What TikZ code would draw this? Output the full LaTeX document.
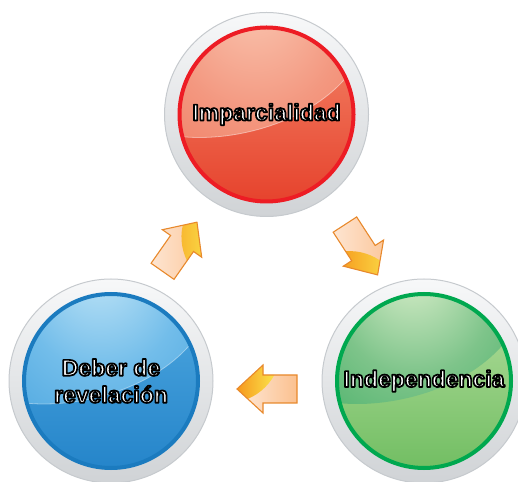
\documentclass[tikz,border=0pt]{standalone}
\usepackage{fontspec}
\setmainfont{Liberation Sans}
\usetikzlibrary{calc}

\definecolor{ringline}{HTML}{C6CACE}
\definecolor{ringtop}{HTML}{F7F8F9}
\definecolor{ringbot}{HTML}{D0D3D6}
% red
\definecolor{rA}{HTML}{FBD0BF}
\definecolor{rB}{HTML}{F8B9A3}
\definecolor{rC}{HTML}{F39880}
\definecolor{rD}{HTML}{F07A60}
\definecolor{rE}{HTML}{EC5E45}
\definecolor{rlowtop}{HTML}{F38468}
\definecolor{rlowbot}{HTML}{E6432D}
\definecolor{rborder}{HTML}{ED1C24}
% blue
\definecolor{bA}{HTML}{C9E8F8}
\definecolor{bB}{HTML}{A9D9F3}
\definecolor{bC}{HTML}{72BDEA}
\definecolor{bD}{HTML}{4CA6DF}
\definecolor{bE}{HTML}{3695D5}
\definecolor{blowtop}{HTML}{4FA8E0}
\definecolor{blowbot}{HTML}{2585CA}
\definecolor{bborder}{HTML}{1B7BBF}
% green
\definecolor{gA}{HTML}{DAEED3}
\definecolor{gB}{HTML}{BFE2B8}
\definecolor{gC}{HTML}{7EC48A}
\definecolor{gD}{HTML}{47B068}
\definecolor{gE}{HTML}{28A456}
\definecolor{glowtop}{HTML}{B4DE9E}
\definecolor{glowbot}{HTML}{72BE63}
\definecolor{gborder}{HTML}{00A84F}
% arrows
\definecolor{apeachL}{HTML}{FEEADB}
\definecolor{apeachR}{HTML}{FBC08E}
\definecolor{aorange}{HTML}{F6961C}
\definecolor{ayellow}{HTML}{FBE84E}
\definecolor{aline}{HTML}{E8892C}

\pgfdeclareradialshading{redglow}{\pgfpoint{-4bp}{36bp}}{color(0bp)=(rA); color(8bp)=(rB); color(24bp)=(rC); color(44bp)=(rD); color(75bp)=(rE)}
\pgfdeclareradialshading{blueglow}{\pgfpoint{-4bp}{36bp}}{color(0bp)=(bA); color(8bp)=(bB); color(22bp)=(bC); color(40bp)=(bD); color(70bp)=(bE)}
\pgfdeclareradialshading{greenglow}{\pgfpoint{-4bp}{36bp}}{color(0bp)=(gA); color(8bp)=(gB); color(22bp)=(gC); color(40bp)=(gD); color(65bp)=(gE)}

% glossy coloured disc, drawn in a scope shifted to the ring's centre
\newcommand{\bubblefill}[5]{%
  \shade[top color=#2, bottom color=#3] (0,0) circle (87);
  \begin{scope}
    \clip (-83.1,-22.3) .. controls (-30,-27) and (40,-8) .. (78.3,35.5)
          arc[start angle=24.4, end angle=195, radius=86] -- cycle;
    \shade[shading=#1] (0,0) circle (87);
  \end{scope}
  \draw[white, opacity=#5, line width=0.8] (-83.1,-22.3) .. controls (-30,-27) and (40,-8) .. (78.3,35.5);
  \draw[#4, line width=4] (0,0) circle (87);}

% outlined text: white fill, black stroke
\newcommand{\outl}[1]{\special{pdf:literal direct 2 Tr 1.7 w 1 j 0 G}#1\special{pdf:literal direct 0 Tr}}

\tikzset{
  x=1pt, y=1pt,
  ring/.style={circle, minimum size=204pt, inner sep=0pt, draw=ringline, line width=1pt,
    top color=ringtop, bottom color=ringbot},
  label/.style={text=white, align=center, inner sep=0pt,
    font=\fontsize{23}{27}\selectfont\bfseries},
  arrowline/.style={draw=aline, line width=1.1pt, line join=miter},
  blockarrow/.pic={
    \begin{scope}
      \clip (30,0) -- (4,24) -- (4,14) -- (-30,14) -- (-30,-14) -- (4,-14) -- (4,-24) -- cycle;
      \shade[left color=apeachL, right color=apeachR] (-31,-25) rectangle (31,25);
      \clip (40,-40) circle (54);
      \shade[left color=aorange, right color=ayellow] (-10,-25) rectangle (31,25);
    \end{scope}
    \draw[arrowline] (30,0) -- (4,24) -- (4,14) -- (-30,14) -- (-30,-14) -- (4,-14) -- (4,-24) -- cycle;
  }
}

\begin{document}
\begin{tikzpicture}
  \useasboundingbox (0,0) rectangle (518,481);

  \node[ring] (impring) at (266.5,366.5) {};
  \begin{scope}[shift={(impring.center)}]\bubblefill{redglow}{rlowtop}{rlowbot}{rborder}{0.45}\end{scope}
  \node[label] (imp) at (impring.center) {\outl{Imparcialidad}};

  \node[ring] (devring) at (111,100) {};
  \begin{scope}[shift={(devring.center)}]\bubblefill{blueglow}{blowtop}{blowbot}{bborder}{0.4}\end{scope}
  \node[label] (dev) at (devring.center) {\outl{Deber de}\\\outl{revelación}};

  \node[ring] (indring) at (424,100) {};
  \begin{scope}[shift={(indring.center)}]\bubblefill{greenglow}{glowtop}{glowbot}{gborder}{0.0}\end{scope}
  \node[label] (ind) at (indring.center) {\outl{Independencia}};

  \pic[rotate=55] at ($(devring)!0.5!(impring)+(-9,1)$) {blockarrow};
  \pic[rotate=-57] at ($(impring)!0.5!(indring)+(16,-2)$) {blockarrow};
  \pic[rotate=180] at ($(indring)!0.5!(devring)+(-0.5,-8)$) {blockarrow};
\end{tikzpicture}
\end{document}
